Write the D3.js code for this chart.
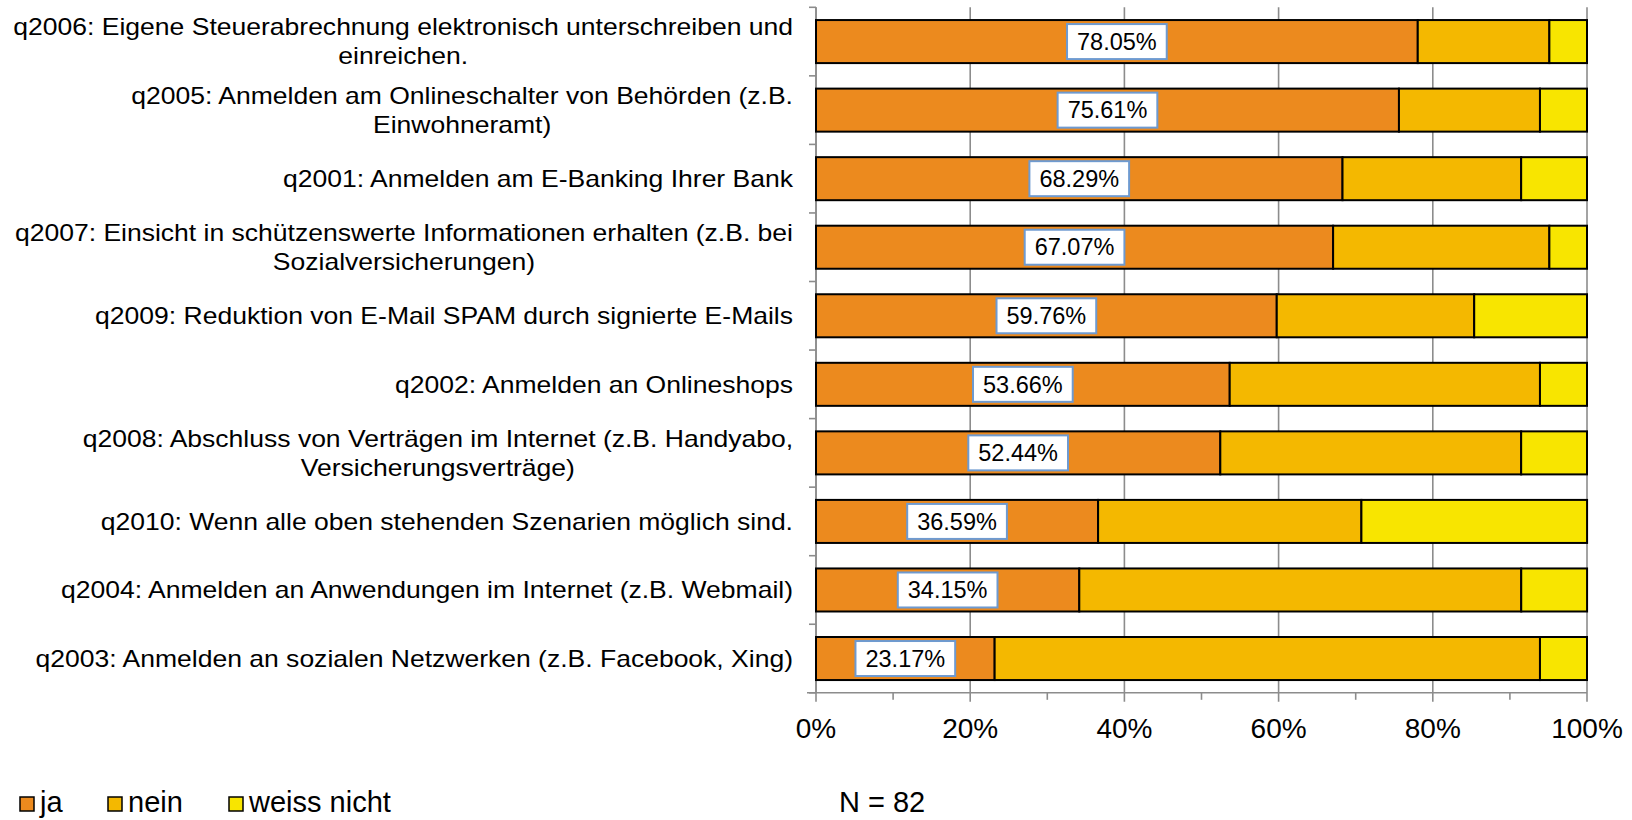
<!DOCTYPE html>
<html>
<head>
<meta charset="utf-8">
<script src="https://cdn.jsdelivr.net/npm/d3@7"></script>
<style>
html,body{margin:0;padding:0;background:#fff;}
svg{display:block;}
text{font-family:"Liberation Sans",Arial,sans-serif;fill:#000;}
</style>
</head>
<body>
<svg id="chart" width="1632" height="820"></svg>
<script>
// ---- data ----
const categories = [
  "q2006: Eigene Steuerabrechnung elektronisch unterschreiben und\neinreichen.",
  "q2005: Anmelden am Onlineschalter von Behörden (z.B.\nEinwohneramt)",
  "q2001: Anmelden am E-Banking Ihrer Bank",
  "q2007: Einsicht in schützenswerte Informationen erhalten (z.B. bei\nSozialversicherungen)",
  "q2009: Reduktion von E-Mail SPAM durch signierte E-Mails",
  "q2002: Anmelden an Onlineshops",
  "q2008: Abschluss von Verträgen im Internet (z.B. Handyabo,\nVersicherungsverträge)",
  "q2010: Wenn alle oben stehenden Szenarien möglich sind.",
  "q2004: Anmelden an Anwendungen im Internet (z.B. Webmail)",
  "q2003: Anmelden an sozialen Netzwerken (z.B. Facebook, Xing)"
];
const ja         = [78.05, 75.61, 68.29, 67.07, 59.76, 53.66, 52.44, 36.59, 34.15, 23.17];
const nein       = [17.07, 18.29, 23.17, 28.05, 25.61, 40.24, 39.02, 34.15, 57.32, 70.73];
const weissNicht = [ 4.88,  6.10,  8.54,  4.88, 14.63,  6.10,  8.54, 29.27,  8.54,  6.10];
const seriesNames = ["ja", "nein", "weiss nicht"];
const seriesColors = ["#EC8A1E", "#F4B800", "#F8E500"];
const xTickValues = [0, 20, 40, 60, 80, 100];
const xMinorValues = [10, 30, 50, 70, 90];
const footnote = "N = 82";

// ---- layout ----
const svg = d3.select("#chart");
const x = d3.scaleLinear().domain([0, 100]).range([816, 1587]);
const y = d3.scaleBand().domain(categories).range([7.3, 692.8]).paddingInner(0.343).paddingOuter(0.1715);
const plotTop = 7.3, plotBottom = 692.8;
const gridColor = "#8C8C8C";

// gridlines
svg.append("g").selectAll("line").data(xTickValues).join("line")
  .attr("x1", d => x(d)).attr("x2", d => x(d))
  .attr("y1", plotTop).attr("y2", plotBottom + 9)
  .attr("stroke", gridColor).attr("stroke-width", 1.6);

// x axis line and minor ticks
svg.append("line").attr("x1", 807).attr("x2", x(100)).attr("y1", plotBottom).attr("y2", plotBottom)
  .attr("stroke", gridColor).attr("stroke-width", 1.6);
svg.append("g").selectAll("line").data(xMinorValues).join("line")
  .attr("x1", d => x(d)).attr("x2", d => x(d))
  .attr("y1", plotBottom).attr("y2", plotBottom + 7)
  .attr("stroke", gridColor).attr("stroke-width", 1.6);

// y axis line and ticks at band boundaries
svg.append("line").attr("x1", x(0)).attr("x2", x(0)).attr("y1", plotTop).attr("y2", plotBottom)
  .attr("stroke", gridColor).attr("stroke-width", 1.6);
const boundaries = categories.map(c => y(c) - y.step() * y.paddingInner() / 2).concat([plotBottom]);
svg.append("g").selectAll("line").data(boundaries).join("line")
  .attr("x1", x(0) - 7).attr("x2", x(0))
  .attr("y1", d => d).attr("y2", d => d)
  .attr("stroke", gridColor).attr("stroke-width", 1.6);

// stacked data
const rows = categories.map((c, i) => ({cat: c, ja: ja[i], nein: nein[i], weiss: weissNicht[i]}));
const stack = d3.stack().keys(["ja", "nein", "weiss"])(rows);

svg.append("g").selectAll("g").data(stack).join("g")
  .attr("fill", (d, i) => seriesColors[i])
  .selectAll("rect").data(d => d).join("rect")
  .attr("x", d => x(d[0]))
  .attr("width", d => x(d[1]) - x(d[0]))
  .attr("y", d => y(d.data.cat) + 1)
  .attr("height", y.bandwidth() - 2)
  .attr("stroke", "#000").attr("stroke-width", 2);

// value labels (ja)
const vl = svg.append("g");
rows.forEach(r => {
  const cx = (x(0) + x(r.ja)) / 2;
  const cy = y(r.cat) + y.bandwidth() / 2;
  const t = vl.append("text").text(r.ja.toFixed(2) + "%")
    .attr("x", cx).attr("y", cy).attr("dy", "0.35em")
    .attr("text-anchor", "middle").style("font-size", "23.5px");
  const w = t.node().getComputedTextLength();
  vl.insert("rect", "text")
    .attr("x", cx - w / 2 - 10).attr("y", cy - 17.5)
    .attr("width", w + 20).attr("height", 35)
    .attr("fill", "#fff").attr("stroke", "#6E9AD0").attr("stroke-width", 2);
});

// category labels
const labelRight = 793, lineH = 29, labelSize = 24;
const lg = svg.append("g");
const probe = lg.append("text").style("font-size", labelSize + "px").text(categories[0].split("\n")[0]);
const sx = 780 / probe.node().getComputedTextLength();
probe.remove();
categories.forEach(c => {
  const lines = c.split("\n");
  const cy = y(c) + y.bandwidth() / 2;
  const g = lg.append("g").attr("transform", `translate(${labelRight},${cy}) scale(${sx},1)`);
  const ts = lines.map((l, j) => g.append("text").text(l)
    .style("font-size", labelSize + "px")
    .attr("y", (j - (lines.length - 1) / 2) * lineH).attr("dy", "0.35em")
    .attr("text-anchor", "middle"));
  const maxW = d3.max(ts, t => t.node().getComputedTextLength());
  ts.forEach(t => t.attr("x", -maxW / 2));
});

// x tick labels
svg.append("g").selectAll("text").data(xTickValues).join("text")
  .attr("x", d => x(d)).attr("y", 738)
  .attr("text-anchor", "middle").style("font-size", "28px")
  .text(d => d + "%");

// legend
const legendX = [20, 108, 229];
const legendTextX = [40, 128, 249];
const leg = svg.append("g");
seriesNames.forEach((n, i) => {
  leg.append("rect").attr("x", legendX[i]).attr("y", 797).attr("width", 14).attr("height", 14)
    .attr("fill", seriesColors[i]).attr("stroke", "#000").attr("stroke-width", 1.5);
  leg.append("text").attr("x", legendTextX[i]).attr("y", 812).style("font-size", "29px").text(n);
});

// footnote
svg.append("text").attr("x", 839).attr("y", 812).style("font-size", "29px").text(footnote);
</script>
</body>
</html>
